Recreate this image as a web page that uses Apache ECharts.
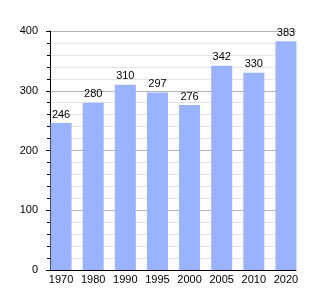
<!DOCTYPE html>
<html><head><meta charset="utf-8">
<script src="https://cdn.jsdelivr.net/npm/echarts@6/dist/echarts.min.js"></script>
<style>html,body{margin:0;padding:0;background:#fff}#c{width:325px;height:300px}</style>
</head><body><div id="c"></div>
<script>
const years = ['1970','1980','1990','1995','2000','2005','2010','2020'];
const population = [246, 280, 310, 297, 276, 342, 330, 383];
const yMin = 0, yMax = 400, yInterval = 100;

const font = 'Liberation Sans, Arial, sans-serif';
const chart = echarts.init(document.getElementById('c'), null, {renderer:'canvas'});
chart.setOption({
  animation: false,
  grid: [
    {left: 50, right: 29, top: 31, bottom: 30},
    {left: 45, right: 23, top: 31, bottom: 30}
  ],
  xAxis: [
    {gridIndex: 0, type: 'value', min: 0, max: 1, axisLabel: {show: false}, axisTick: {show: false}, splitLine: {show: false},
     axisLine: {show: true, lineStyle: {color: '#000', width: 1}}},
    {gridIndex: 1, type: 'category', data: years, boundaryGap: true,
     axisLine: {show: false}, axisTick: {show: false},
     axisLabel: {color: '#000', fontSize: 11, fontFamily: font, margin: 4}}
  ],
  yAxis: [
    {gridIndex: 0, type: 'value', min: yMin, max: yMax, interval: yInterval,
     axisLine: {show: true, lineStyle: {color: '#000', width: 1}},
     axisTick: {show: true, length: 4, lineStyle: {color: '#000'}},
     minorTick: {show: true, splitNumber: 5, length: 3, lineStyle: {color: '#000'}},
     splitLine: {show: true, lineStyle: {color: '#b4b4b4', width: 1}},
     minorSplitLine: {show: true, lineStyle: {color: '#e4e4e4', width: 1}},
     axisLabel: {color: '#000', fontSize: 11, fontFamily: font, margin: 12}},
    {gridIndex: 1, type: 'value', min: yMin, max: yMax, show: false, splitLine: {show: false}}
  ],
  series: [{
    type: 'bar', xAxisIndex: 1, yAxisIndex: 1, data: population,
    barWidth: 21,
    itemStyle: {color: '#99b3ff'},
    label: {show: true, position: 'top', distance: 3, color: '#000', fontSize: 11, fontFamily: font}
  }]
});
</script></body></html>
